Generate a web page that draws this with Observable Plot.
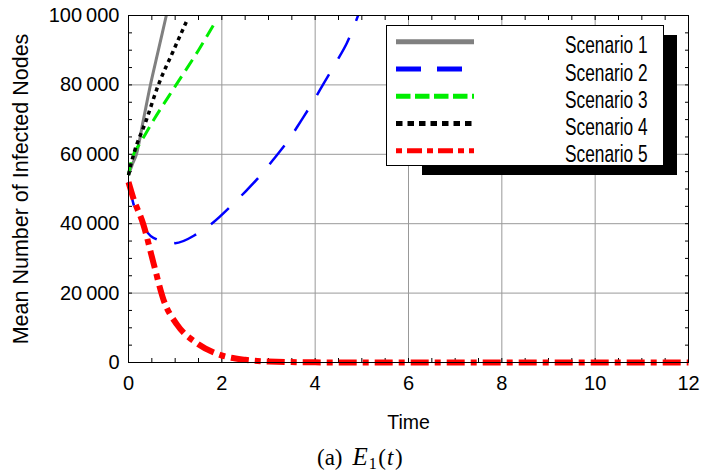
<!DOCTYPE html>
<html>
<head>
<meta charset="utf-8">
<script src="https://cdn.jsdelivr.net/npm/d3@7"></script>
<script src="https://cdn.jsdelivr.net/npm/@observablehq/plot@0.6"></script>
<style>
  body { margin: 0; background: #fff; }
  #wrap { position: relative; width: 702px; height: 473px; overflow: hidden; }
  #chart svg { display: block; }
  #overlay { position: absolute; left: 0; top: 0; pointer-events: none; }
</style>
</head>
<body>
<div id="wrap">
  <div id="chart"></div>
  <svg id="overlay" width="702" height="473"></svg>
</div>
<script>
// ---------- data ----------
const scenarioNames = ["Scenario 1", "Scenario 2", "Scenario 3", "Scenario 4", "Scenario 5"];

const s1Time = [0, 0.08, 0.17, 0.32, 0.47, 0.64, 0.81];
const s1Mean = [54000, 57000, 60000, 70000, 80000, 90000, 100000];

const s2Time = [0, 0.1, 0.25, 0.535, 1.0, 1.46, 1.82, 2.19, 2.5, 2.86, 3.14, 3.46, 3.69, 3.97, 4.19, 4.46, 4.68, 4.92];
const s2Mean = [52000, 46000, 41000, 35900, 34400, 37000, 40400, 45000, 49200, 54400, 59100, 64700, 69500, 75500, 80600, 86800, 92100, 100000];

const s3Time = [0, 0.05, 0.11, 0.25, 0.535, 1.02, 1.5, 1.89];
const s3Mean = [54000, 57500, 60000, 63200, 69800, 80000, 90000, 98800];

const s4Time = [0, 0.05, 0.11, 0.38, 0.64, 0.95, 1.26];
const s4Mean = [54000, 57000, 60000, 69800, 80000, 89500, 98800];

const s5Time = [0, 0.1, 0.32, 0.535, 0.75, 1.04, 1.46, 1.96, 2.5, 3, 4, 6, 12];
const s5Mean = [52000, 47500, 39700, 28700, 18100, 10900, 5600, 2200, 780, 280, 40, 0, 0];

const xTicks = [0, 2, 4, 6, 8, 10, 12];
const yTicks = [0, 20000, 40000, 60000, 80000, 100000];
const xGrid = [2, 4, 6, 8, 10];
const yGrid = [20000, 40000, 60000, 80000];

const xLabel = "Time";
const yLabel = "Mean Number of Infected Nodes";

// ---------- styles ----------
const styles = [
  {stroke: "#808080", width: 3, dash: null, legendDash: null},
  {stroke: "#0000ff", width: 2.5, dash: "24,18", legendDash: "25,16"},
  {stroke: "#00ee00", width: 3, dash: "13,7", legendDash: "14.5,4.5"},
  {stroke: "#000000", width: 3.5, dash: "4,4", legendDash: "6.5,5"},
  {stroke: "#ff0000", width: 6, dash: "18,6,6,6", legendDash: "6,5,15,5"}
];

const series = [[s1Time, s1Mean], [s2Time, s2Mean], [s3Time, s3Mean], [s4Time, s4Mean], [s5Time, s5Mean]];
const rows = series.map(([T, M], i) => T.map((t, j) => ({t, mean: M[j], scenario: scenarioNames[i]})));

const fmt = d3.formatLocale({decimal: ".", thousands: "\u2009", grouping: [3], currency: ["", ""]}).format(",");
const font = "'Liberation Sans', Arial, Helvetica, sans-serif";
const xMinor = d3.range(0.5, 12, 0.5);
const yMinor = d3.range(5000, 100000, 5000);

const lineMarks = rows.map((data, i) => Plot.line(data, {
  x: "t", y: "mean",
  stroke: styles[i].stroke,
  strokeWidth: styles[i].width,
  strokeDasharray: styles[i].dash,
  strokeLinecap: "butt",
  curve: "monotone-x"
}));

const chart = Plot.plot({
  width: 702,
  height: 440,
  marginLeft: 128,
  marginRight: 14,
  marginTop: 15,
  marginBottom: 78,
  style: {fontFamily: font, fontSize: "20px", color: "#000", background: "#fff"},
  x: {domain: [0, 12]},
  y: {domain: [0, 100000]},
  marks: [
    Plot.gridX(xGrid, {stroke: "#999", strokeOpacity: 1, strokeWidth: 1}),
    Plot.gridY(yGrid, {stroke: "#999", strokeOpacity: 1, strokeWidth: 1}),
    // tick labels
    Plot.axisX(xTicks, {anchor: "bottom", tickSize: 0, tickPadding: 13, tickFormat: d => String(d), fontSize: 20, label: null}),
    Plot.axisY(yTicks, {anchor: "left", tickSize: 0, tickPadding: 9, tickFormat: fmt, fontSize: 20, label: null}),
    // axis titles
    Plot.axisX([], {anchor: "bottom", tickSize: 0, label: xLabel, labelAnchor: "center", labelOffset: 66, labelArrow: "none", fontSize: 19.5}),
    Plot.axisY([], {anchor: "left", tickSize: 0, label: yLabel, labelAnchor: "center", labelOffset: 116, labelArrow: "none", fontSize: 21.5}),
    // inward minor ticks on all four sides
    Plot.axisX(xMinor, {anchor: "bottom", tickSize: -4, fill: "none", label: null}),
    Plot.axisX(xMinor, {anchor: "top", tickSize: -4, fill: "none", label: null}),
    Plot.axisY(yMinor, {anchor: "left", tickSize: -4, fill: "none", label: null}),
    Plot.axisY(yMinor, {anchor: "right", tickSize: -4, fill: "none", label: null}),
    ...lineMarks,
    Plot.frame({stroke: "#000", strokeWidth: 1})
  ]
});
document.getElementById("chart").appendChild(chart);

// ---------- legend + caption overlay ----------
const ov = d3.select("#overlay");
const box = {x: 386, y: 25, w: 278, h: 141};
ov.append("rect").attr("x", 422).attr("y", 35).attr("width", 255).attr("height", 140).attr("fill", "#000");
ov.append("rect").attr("x", box.x + 0.5).attr("y", box.y + 0.5).attr("width", box.w - 1).attr("height", box.h - 1)
  .attr("fill", "#fff").attr("stroke", "#000").attr("stroke-width", 1);
scenarioNames.forEach((name, i) => {
  const cy = 41.7 + i * 27.25;
  ov.append("line").attr("x1", 396).attr("x2", 474).attr("y1", cy).attr("y2", cy)
    .attr("stroke", styles[i].stroke).attr("stroke-width", 5)
    .attr("stroke-dasharray", styles[i].legendDash);
  ov.append("text").attr("transform", `translate(565,${cy + 11.6}) scale(0.72,1)`)
    .attr("font-family", font).attr("font-size", 24).attr("fill", "#000").text(name);
});
const cap = ov.append("text").attr("x", 317).attr("y", 465)
  .attr("font-family", "'Liberation Serif', 'Times New Roman', serif").attr("font-size", 23).attr("fill", "#000");
cap.append("tspan").text("(a)");
cap.append("tspan").attr("dx", 10).attr("font-style", "italic").attr("font-size", 25).text("E");
cap.append("tspan").attr("font-size", 16).attr("dx", 1).attr("dy", 4).text("1");
cap.append("tspan").attr("dx", 1.5).attr("dy", -4).text("(");
cap.append("tspan").attr("dx", 1).attr("font-style", "italic").text("t");
cap.append("tspan").attr("dx", 1.5).text(")");
</script>
</body>
</html>
